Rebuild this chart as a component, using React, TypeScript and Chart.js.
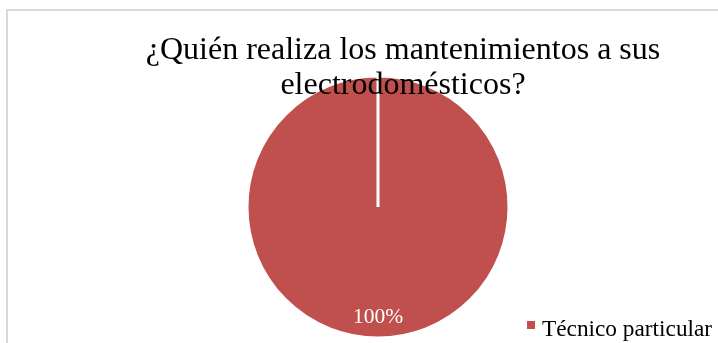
import { useEffect, useRef } from "react";
import { Chart, registerables } from "chart.js";

Chart.register(...registerables);

const titleLines = ["¿Quién realiza los mantenimientos a sus", "electrodomésticos?"];
const categories = ["Técnico particular"];
const values = [100];
const colors = ["#C0504D"];

const FONT = '"Liberation Serif", "Times New Roman", serif';

const overlayPlugin = {
  id: "overlay",
  beforeDraw(chart: any) {
    const ctx = chart.ctx;
    ctx.save();
    ctx.fillStyle = "#ffffff";
    ctx.fillRect(0, 0, chart.width, chart.height);
    ctx.fillStyle = "#d9d9d9";
    ctx.fillRect(6, 9, chart.width - 6, 2);
    ctx.fillRect(6, 9, 2, chart.height - 9);
    ctx.restore();
  },
  afterDatasetsDraw(chart: any) {
    const ctx = chart.ctx;
    const meta = chart.getDatasetMeta(0);
    const data = chart.data.datasets[0].data as number[];
    const total = data.reduce((a, b) => a + b, 0);
    ctx.save();
    // percentage labels
    meta.data.forEach((arc: any, i: number) => {
      const p = arc.getProps(["x", "y", "startAngle", "endAngle", "outerRadius"], true);
      const mid = (p.startAngle + p.endAngle) / 2;
      const r = p.outerRadius * 0.84;
      ctx.fillStyle = "#ffffff";
      ctx.font = `21.5px ${FONT}`;
      ctx.textAlign = "center";
      ctx.textBaseline = "middle";
      const pct = Math.round((data[i] / total) * 100) + "%";
      ctx.fillText(pct, p.x + Math.cos(mid) * r, p.y + Math.sin(mid) * r);
    });
    // title
    ctx.fillStyle = "#000000";
    ctx.font = `32px ${FONT}`;
    ctx.textAlign = "center";
    ctx.textBaseline = "alphabetic";
    titleLines.forEach((line, i) => {
      ctx.fillText(line, 403, 59 + i * 35);
    });
    // legend
    const labels = chart.data.labels as string[];
    labels.forEach((lab, i) => {
      ctx.fillStyle = colors[i];
      ctx.fillRect(527, 321, 8, 8);
      ctx.fillStyle = "#000000";
      ctx.font = `23.3px ${FONT}`;
      ctx.textAlign = "left";
      ctx.textBaseline = "alphabetic";
      ctx.fillText(lab, 542, 336);
    });
    ctx.restore();
  },
};

export default function App() {
  const ref = useRef<HTMLCanvasElement | null>(null);
  useEffect(() => {
    if (!ref.current) return;
    const chart = new Chart(ref.current, {
      type: "pie",
      data: {
        labels: categories,
        datasets: [
          {
            data: values,
            backgroundColor: colors,
            borderColor: "#ffffff",
            borderWidth: 3,
            radius: 131,
          } as any,
        ],
      },
      options: {
        responsive: false,
        animation: false,
        events: [],
        layout: { padding: { left: 249, right: 211, top: 78, bottom: 7 } },
        plugins: {
          legend: { display: false },
          title: { display: false },
          tooltip: { enabled: false },
        },
      },
      plugins: [overlayPlugin],
    });
    return () => chart.destroy();
  }, []);
  return (
    <div style={{ position: "absolute", left: 0, top: 0, width: 718, height: 343, overflow: "hidden" }}>
      <canvas ref={ref} width={718} height={343} style={{ display: "block", width: 718, height: 343 }} />
    </div>
  );
}
